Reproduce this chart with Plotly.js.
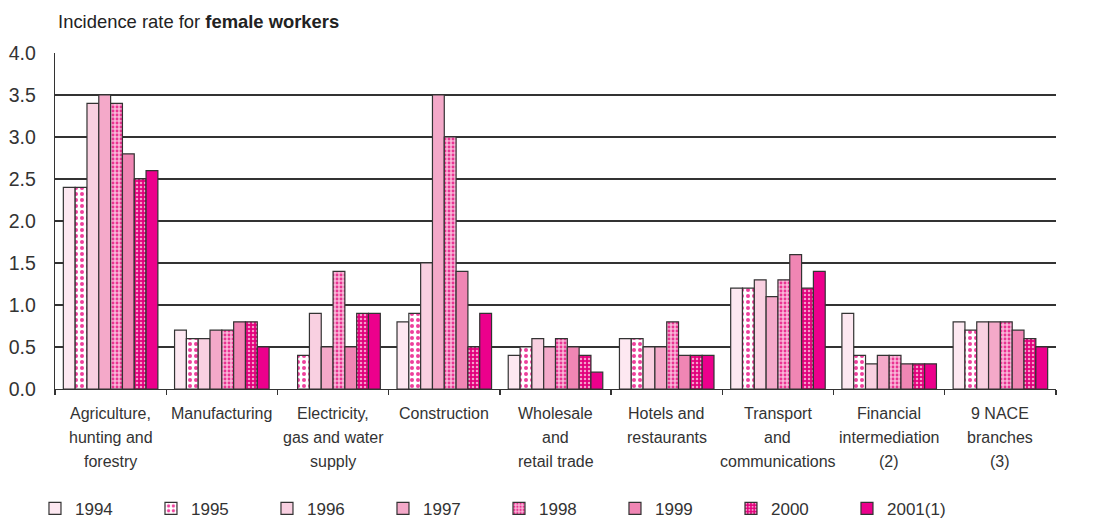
<!DOCTYPE html>
<html>
<head>
<meta charset="utf-8">
<script src="https://cdn.plot.ly/plotly-3.0.1.min.js"></script>
<style>html,body{margin:0;padding:0;background:#fff;}#chart{width:1096px;height:520px;}</style>
</head>
<body>
<div id="chart"></div>
<script>
const categories = [
  'Agriculture,<br>hunting and<br>forestry',
  'Manufacturing',
  'Electricity,<br>gas and water<br>supply',
  'Construction',
  'Wholesale<br>and<br>retail trade',
  'Hotels and<br>restaurants',
  'Transport<br>and<br>communications',
  'Financial<br>intermediation<br>(2)',
  '9 NACE<br>branches<br>(3)'
];
const years = ['1994', '1995', '1996', '1997', '1998', '1999', '2000', '2001(1)'];
const v1994 = [2.4, 0.7, null, 0.8, 0.4, 0.6, 1.2, 0.9, 0.8];
const v1995 = [2.4, 0.6, 0.4, 0.9, 0.5, 0.6, 1.2, 0.4, 0.7];
const v1996 = [3.4, 0.6, 0.9, 1.5, 0.6, 0.5, 1.3, 0.3, 0.8];
const v1997 = [3.5, 0.7, 0.5, 3.5, 0.5, 0.5, 1.1, 0.4, 0.8];
const v1998 = [3.4, 0.7, 1.4, 3.0, 0.6, 0.8, 1.3, 0.4, 0.8];
const v1999 = [2.8, 0.8, 0.5, 1.4, 0.5, 0.4, 1.6, 0.3, 0.7];
const v2000 = [2.5, 0.8, 0.9, 0.5, 0.4, 0.4, 1.2, 0.3, 0.6];
const v2001 = [2.6, 0.5, 0.9, 0.9, 0.2, 0.4, 1.4, 0.3, 0.5];
const yTicks = [0, 0.5, 1, 1.5, 2, 2.5, 3, 3.5, 4];

const series = [v1994, v1995, v1996, v1997, v1998, v1999, v2000, v2001];
const styles = [
  {color: '#fde8f1'},
  {color: '#ffffff', pattern: {shape: '.', bgcolor: '#ffffff', fgcolor: '#ee3f9c', size: 6, solidity: 0.35}},
  {color: '#f9d0e1'},
  {color: '#f4a9c9'},
  {color: '#f490c0', pattern: {shape: '.', bgcolor: '#f9b6d8', fgcolor: '#ea3392', size: 4, solidity: 0.4}},
  {color: '#f086b4'},
  {color: '#e8007f', pattern: {shape: '.', bgcolor: '#e2007c', fgcolor: '#f6a0cc', size: 4, solidity: 0.3}},
  {color: '#ec008c'}
];

const traces = series.map((vals, i) => {
  const m = {color: styles[i].color, line: {color: '#333333', width: 1.2}};
  if (styles[i].pattern) m.pattern = Object.assign({fillmode: 'replace'}, styles[i].pattern);
  return {type: 'bar', name: years[i], x: categories, y: vals, marker: m, hoverinfo: 'x+y'};
});

const annotations = [];
categories.forEach(c => {
  c.split('<br>').forEach((line, j) => {
    annotations.push({
      x: c, xref: 'x', y: 0, yref: 'paper', yanchor: 'middle', yshift: -24 - 24 * j,
      text: line, showarrow: false, font: {family: 'Liberation Sans, Arial, sans-serif', size: 16, color: '#333'}
    });
  });
});

const tickFont = {family: 'Liberation Sans, Arial, sans-serif', size: 19.5, color: '#333'};
const layout = {
  width: 1096, height: 520,
  margin: {l: 55, r: 40, t: 53, b: 131, autoexpand: false},
  paper_bgcolor: '#fff', plot_bgcolor: '#fff',
  font: {family: 'Liberation Sans, Arial, sans-serif', color: '#333'},
  title: {text: 'Incidence rate for <b>female workers</b>', xref: 'container', yref: 'container',
          x: 0.053, xanchor: 'left', y: 0.958, yanchor: 'middle',
          font: {family: 'Liberation Sans, Arial, sans-serif', size: 18.4, color: '#222'}},
  barmode: 'group', bargap: 0.15, bargroupgap: 0,
  showlegend: true,
  legend: {orientation: 'h', x: -0.02, xanchor: 'left', y: -0.303, yanchor: 'top',
           entrywidth: 71, entrywidthmode: 'pixels', traceorder: 'normal',
           font: {family: 'Liberation Sans, Arial, sans-serif', size: 17, color: '#333'}},
  xaxis: {type: 'category', showline: true, linecolor: '#333', linewidth: 1.3, mirror: false,
          ticks: 'outside', tickson: 'boundaries', ticklen: 5, tickcolor: '#333', tickwidth: 1.3,
          showticklabels: false, showgrid: false, zeroline: false, fixedrange: true},
  yaxis: {range: [0, 4], tickvals: yTicks, tickformat: '.1f', showline: true, linecolor: '#333', linewidth: 1.3,
          gridcolor: '#333', gridwidth: 1.2, zeroline: false, ticks: '', tickfont: tickFont,
          ticklabelstandoff: 14, fixedrange: true},
  yaxis2: {range: [0, 4], tickvals: yTicks, tickformat: '.1f', overlaying: 'y', side: 'right', anchor: 'x',
           showline: true, linecolor: '#333', linewidth: 1.3, showgrid: false, zeroline: false, ticks: '',
           tickfont: tickFont, ticklabelstandoff: 11, fixedrange: true},
  annotations: annotations
};

Plotly.newPlot('chart', traces, layout, {displayModeBar: false, staticPlot: true});
</script>
</body>
</html>
